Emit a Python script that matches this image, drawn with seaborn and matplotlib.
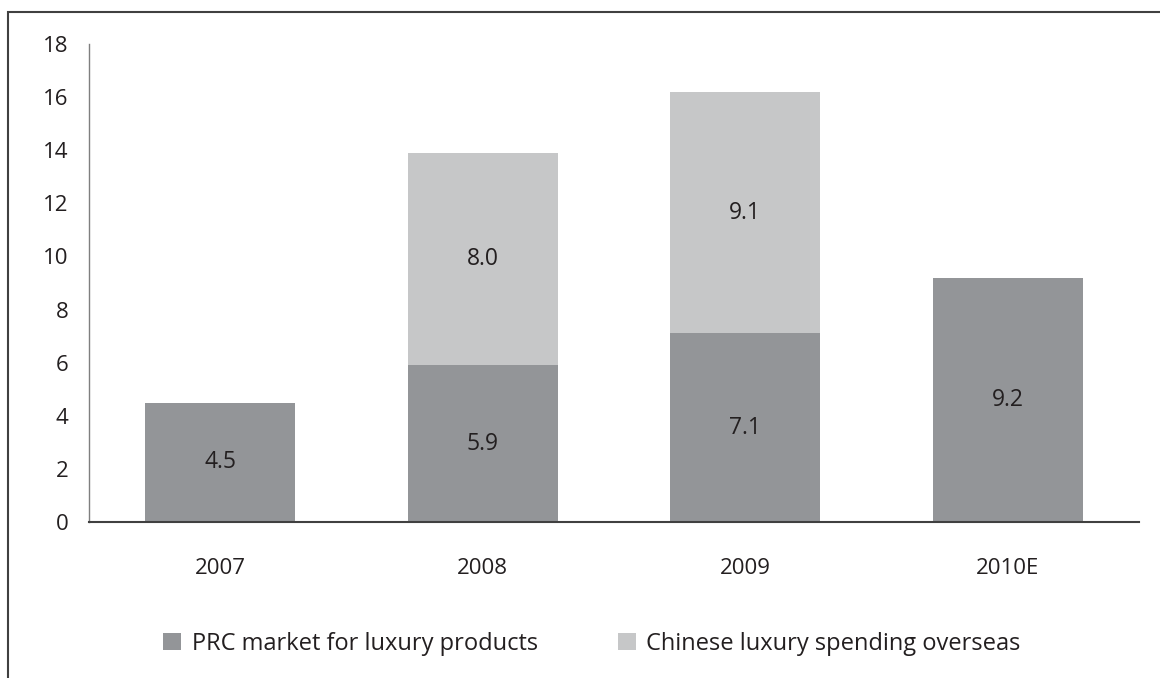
import matplotlib
matplotlib.use("Agg")
import matplotlib.pyplot as plt
import seaborn as sns
import pandas as pd
from matplotlib.patches import Patch, Rectangle

years = ["2007", "2008", "2009", "2010E"]
prc_market = [4.5, 5.9, 7.1, 9.2]
overseas = [0.0, 8.0, 9.1, 0.0]
series_names = ["PRC market for luxury products", "Chinese luxury spending overseas"]
y_ticks = [0, 2, 4, 6, 8, 10, 12, 14, 16, 18]

dark = "#939598"
light = "#c6c7c8"
txt = "#231f20"

sns.set_style("white")
plt.rcParams["font.family"] = ["Open Sans", "DejaVu Sans"]

totals = [a + b for a, b in zip(prc_market, overseas)]
df = pd.DataFrame({"year": years, "prc": prc_market, "over": overseas, "total": totals})

fig = plt.figure(figsize=(11.6, 6.78), dpi=100)
ax = fig.add_axes([89/1160, 1-522/678, (1139-89)/1160, (522-44)/678])

sns.barplot(data=df, x="year", y="total", color=light, width=0.57, ax=ax,
            saturation=1, linewidth=0, edgecolor="none")
sns.barplot(data=df, x="year", y="prc", color=dark, width=0.57, ax=ax,
            saturation=1, linewidth=0, edgecolor="none")

for i, (p, o) in enumerate(zip(prc_market, overseas)):
    ax.text(i, p / 2, f"{p:.1f}", ha="center", va="center", fontsize=16.5, color=txt)
    if o > 0:
        ax.text(i, p + o / 2, f"{o:.1f}", ha="center", va="center", fontsize=16.5, color=txt)

ax.set_ylim(0, 18)
ax.set_xlim(-0.5, 3.5)
ax.set_yticks(y_ticks)
ax.set_yticklabels([str(t) for t in y_ticks])
ax.set_xlabel("")
ax.set_ylabel("")
ax.tick_params(axis="y", length=0, pad=15, labelsize=16, labelcolor=txt)
ax.tick_params(axis="x", length=0, pad=26, labelsize=16, labelcolor=txt)
for s in ["top", "right"]:
    ax.spines[s].set_visible(False)
ax.spines["left"].set_color("#7f7f7f")
ax.spines["left"].set_linewidth(1.0)
ax.spines["bottom"].set_color("#404040")
ax.spines["bottom"].set_linewidth(1.5)

handles = [Patch(facecolor=dark, edgecolor="none"), Patch(facecolor=light, edgecolor="none")]
fig.legend(handles, series_names, loc="center", bbox_to_anchor=(592/1160, 1-644/678),
           ncol=2, frameon=False, fontsize=17, handlelength=0.75, handleheight=0.75,
           handletextpad=0.45, columnspacing=3.4, labelcolor=txt)

fig.patches.append(Rectangle((8/1160, -0.1), 1.2, 1 - 12/678 + 0.1, fill=False,
                             transform=fig.transFigure, edgecolor="#404040",
                             linewidth=1.5, clip_on=False, zorder=10))

fig.savefig("out.png", dpi=100)
